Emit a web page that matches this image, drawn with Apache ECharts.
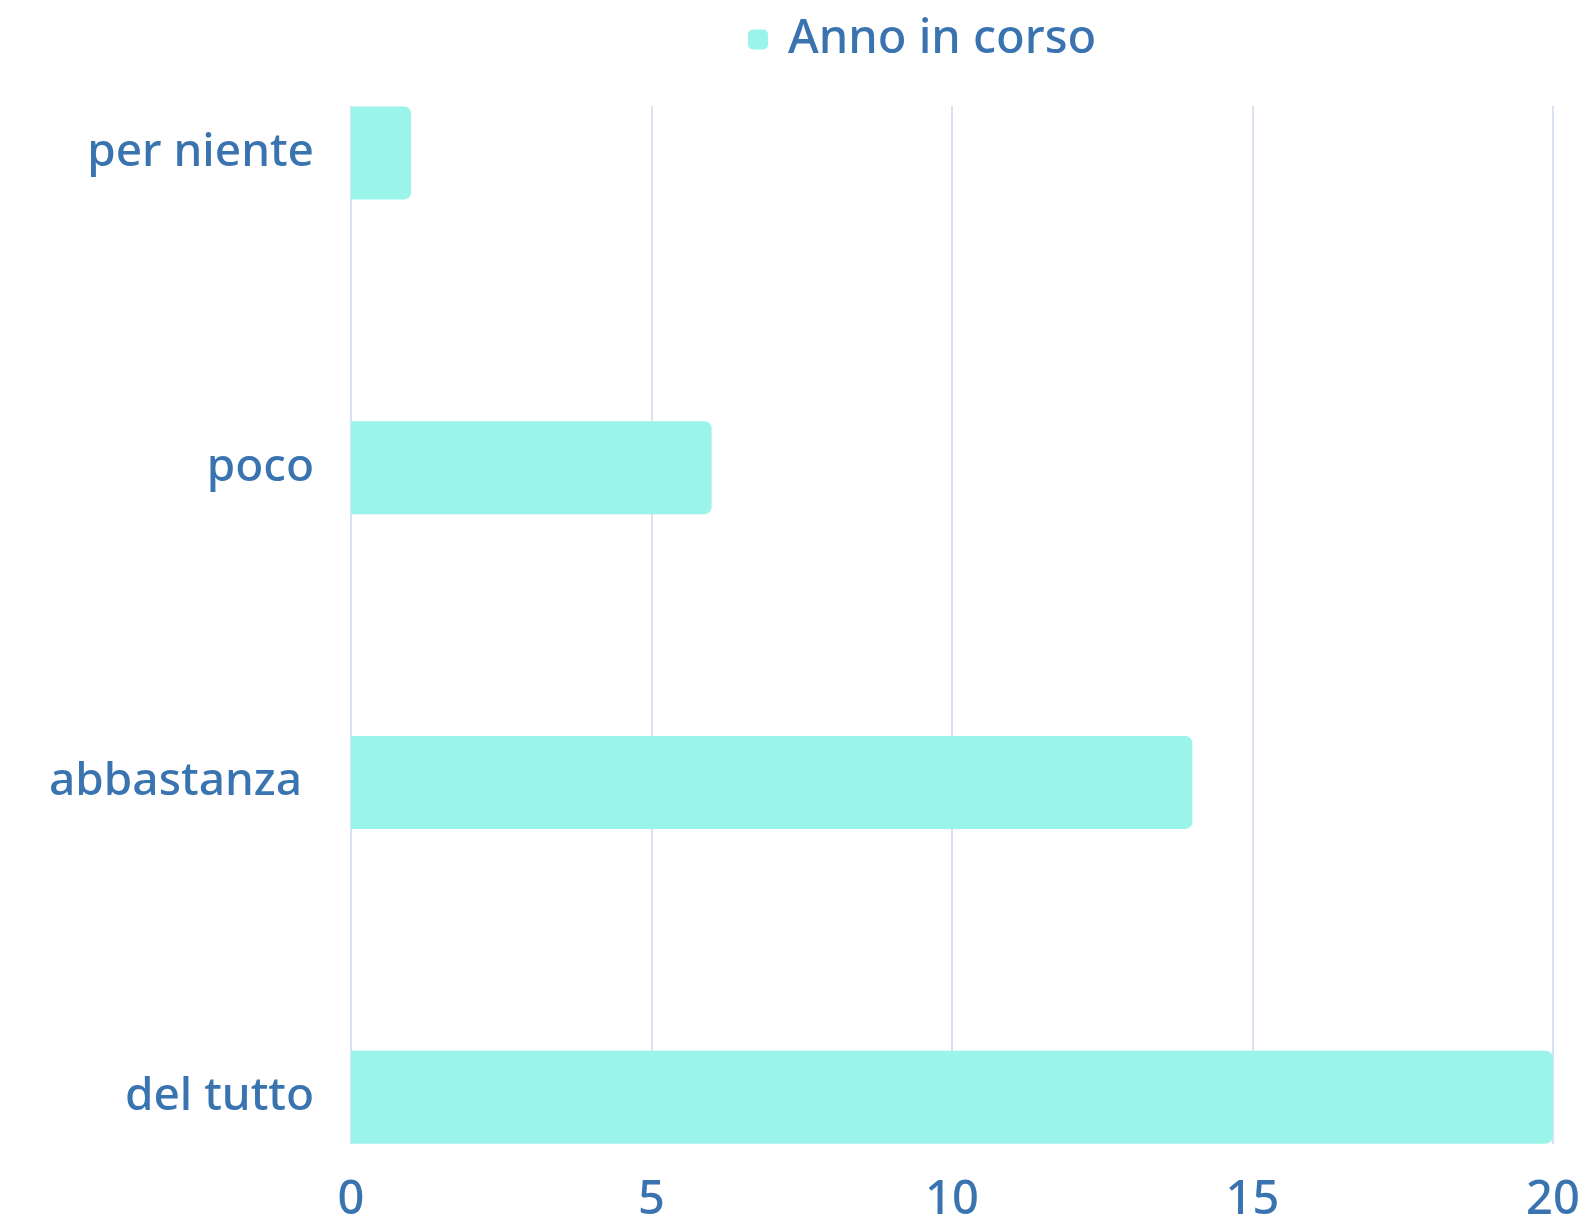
<!DOCTYPE html>
<html>
<head>
<meta charset="utf-8">
<script src="https://cdn.jsdelivr.net/npm/echarts@6/dist/echarts.min.js"></script>
<style>
  html, body { margin: 0; padding: 0; background: #fff; }
  #chart { width: 1586px; height: 1219px; }
</style>
</head>
<body>
<div id="chart"></div>
<script>
let categories = ["per niente", "poco", "abbastanza ", "del tutto"];
let values = [1, 6, 14, 20];
let seriesName = "Anno in corso";
let xTicks = [0, 5, 10, 15, 20];

let textColor = "#3a74b0";
let barColor = "#9bf4ea";
let gridColor = "#cbd8eb";
let font = "Noto Sans";

let chart = echarts.init(document.getElementById("chart"));
let option = {
  animation: false,
  legend: {
    data: [seriesName],
    left: 743,
    top: 11,
    itemWidth: 20,
    itemHeight: 20,
    itemGap: 10,
    icon: "roundRect",
    textStyle: {
      color: textColor,
      fontFamily: font,
      fontWeight: 500,
      fontSize: 47,
      padding: [0, 0, 0, 15],
    },
  },
  grid: [
    // bars grid: bands sized so bar centres line up with labels
    { left: 351, right: 33, top: -4.5, height: 1259, outerBoundsMode: "none" },
    // frame grid: vertical lines and bottom labels
    { left: 351, right: 33, top: 106, bottom: 75, outerBoundsMode: "none" },
  ],
  xAxis: [
    {
      gridIndex: 0,
      type: "value",
      min: xTicks[0],
      max: xTicks[xTicks.length - 1],
      interval: 5,
      axisLabel: { show: false },
      axisLine: { show: false },
      axisTick: { show: false },
      splitLine: { show: false },
    },
    {
      gridIndex: 1,
      type: "value",
      min: xTicks[0],
      max: xTicks[xTicks.length - 1],
      interval: 5,
      axisLine: { show: false },
      axisTick: { show: false },
      splitLine: { show: true, lineStyle: { color: gridColor, width: 1.5 } },
      axisLabel: {
        color: textColor,
        fontFamily: font,
        fontWeight: 500,
        fontSize: 47,
        margin: 33,
      },
    },
  ],
  yAxis: [
    {
      gridIndex: 0,
      type: "category",
      inverse: true,
      data: categories,
      axisLine: { show: false },
      axisTick: { show: false },
      axisLabel: {
        color: textColor,
        fontFamily: font,
        fontWeight: 500,
        fontSize: 46,
        margin: 37,
        padding: [8, 0, 0, 0],
      },
    },
    {
      gridIndex: 1,
      type: "category",
      data: categories,
      show: false,
    },
  ],
  series: [
    {
      name: seriesName,
      type: "bar",
      xAxisIndex: 0,
      yAxisIndex: 0,
      data: values,
      barWidth: 93,
      itemStyle: { color: barColor, borderRadius: [0, 7, 7, 0] },
    },
  ],
};
chart.setOption(option);
</script>
</body>
</html>
